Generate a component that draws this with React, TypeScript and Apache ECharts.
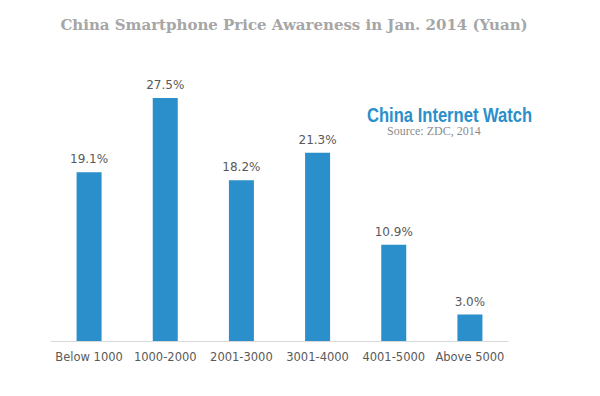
import React, { useEffect, useRef } from "react";
import * as echarts from "echarts";

const categories = ["Below 1000", "1000-2000", "2001-3000", "3001-4000", "4001-5000", "Above 5000"];
const values = [19.1, 27.5, 18.2, 21.3, 10.9, 3.0];

export default function App() {
  const ref = useRef<HTMLDivElement>(null);
  useEffect(() => {
    const chart = echarts.init(ref.current!, null, { renderer: "svg" });
    chart.setOption({
      animation: false,
      backgroundColor: "#ffffff",
      title: {
        text: "China Smartphone Price Awareness in Jan. 2014 (Yuan)",
        left: 289,
        textAlign: "center",
        top: 12,
        textStyle: { fontFamily: "DejaVu Serif", fontWeight: "bold", fontSize: 15, color: "#a6a6a6" },
      },
      graphic: [
        {
          type: "text",
          x: 367,
          y: 104,
          scaleX: 0.79,
          style: { text: "China Internet Watch", font: "bold 21px 'Liberation Sans'", fill: "#2a8fcb" },
        },
        {
          type: "text",
          left: 387,
          top: 125,
          style: { text: "Source: ZDC, 2014", font: "12px 'Liberation Serif'", fill: "#8c8c8c" },
        },
      ],
      grid: { left: 51, right: 92, top: 76, bottom: 55 },
      xAxis: {
        type: "category",
        data: categories,
        axisLine: { lineStyle: { color: "#d9d9d9" } },
        axisTick: { show: false },
        axisLabel: { color: "#595959", fontSize: 11.5, fontFamily: "DejaVu Sans", margin: 10, interval: 0 },
      },
      yAxis: { type: "value", min: 0, max: 30, show: false },
      series: [
        {
          type: "bar",
          data: values,
          barWidth: 25,
          itemStyle: { color: "#2a8fcb" },
          label: {
            show: true,
            position: "top",
            formatter: (p: any) => p.value.toFixed(1) + "%",
            color: "#595959",
            fontSize: 12,
            fontFamily: "DejaVu Sans",
            distance: 7,
          },
        },
      ],
    });
    return () => chart.dispose();
  }, []);
  return <div ref={ref} style={{ width: 600, height: 396, position: "absolute", left: 0, top: 0 }} />;
}
